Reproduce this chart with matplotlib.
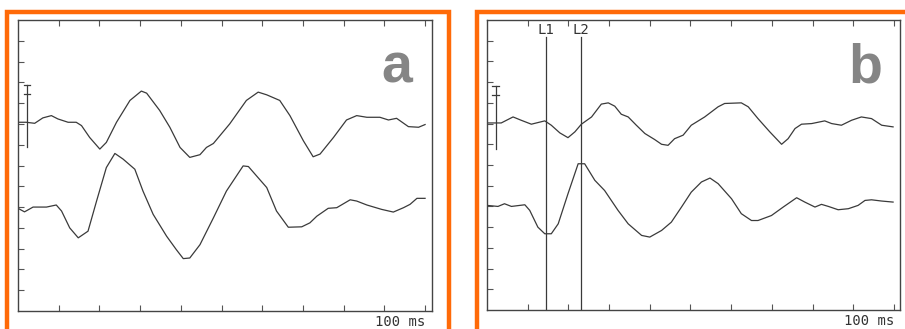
import numpy as np
import matplotlib
matplotlib.use("Agg")
from matplotlib import pyplot as plt
from matplotlib.patches import Rectangle

# traces, x in time divisions, y in grid divisions
a_top_x = [0, 0.20, 0.41, 0.61, 0.82, 0.98, 1.23, 1.43, 1.56, 1.76, 2.01, 2.17, 2.42, 2.75, 3.03,
           3.16, 3.48, 3.73, 3.98, 4.22, 4.47, 4.63, 4.80, 5.20, 5.61, 5.90, 6.11, 6.43, 6.68, 7.01,
           7.25, 7.42, 7.75, 8.07, 8.32, 8.57, 8.89, 9.10, 9.30, 9.59, 9.84, 10.0]
a_top_y = [9.08, 9.08, 9.03, 9.29, 9.40, 9.24, 9.08, 9.08, 8.92, 8.35, 7.79, 8.11, 9.08, 10.13, 10.58,
           10.48, 9.65, 8.84, 7.87, 7.39, 7.52, 7.87, 8.06, 9.00, 10.13, 10.53, 10.40, 10.13, 9.40, 8.19,
           7.42, 7.55, 8.35, 9.19, 9.40, 9.32, 9.32, 9.19, 9.27, 8.87, 8.84, 8.97]

a_low_x = [0, 0.16, 0.37, 0.70, 0.94, 1.07, 1.27, 1.48, 1.72, 1.93, 2.17, 2.38, 2.58, 2.87, 3.07,
           3.32, 3.65, 3.89, 4.06, 4.22, 4.47, 4.80, 5.12, 5.53, 5.66, 5.86, 6.11, 6.35, 6.64, 6.97,
           7.17, 7.34, 7.62, 7.83, 8.16, 8.32, 8.57, 8.93, 9.22, 9.47, 9.63, 9.80, 10.0]
a_low_y = [4.94, 4.77, 5.00, 5.00, 5.10, 4.81, 4.00, 3.52, 3.84, 5.29, 6.90, 7.58, 7.31, 6.82, 5.77,
           4.65, 3.60, 2.95, 2.52, 2.55, 3.19, 4.48, 5.77, 6.98, 6.95, 6.50, 5.94, 4.81, 4.03, 4.05,
           4.24, 4.56, 4.94, 4.97, 5.35, 5.29, 5.10, 4.89, 4.76, 4.97, 5.13, 5.42, 5.42]

b_top_x = [0, 0.35, 0.64, 0.84, 1.09, 1.42, 1.58, 1.79, 1.99, 2.16, 2.32, 2.57, 2.81, 2.98, 3.14,
           3.30, 3.47, 3.67, 3.88, 4.12, 4.29, 4.45, 4.61, 4.82, 5.02, 5.35, 5.68, 5.84, 6.25, 6.42,
           6.66, 6.95, 7.24, 7.40, 7.57, 7.73, 7.98, 8.30, 8.47, 8.71, 8.96, 9.20, 9.45, 9.70, 9.98]
b_top_y = [9.03, 9.03, 9.32, 9.16, 8.97, 9.13, 8.92, 8.55, 8.32, 8.60, 8.97, 9.32, 9.94, 10.00, 9.84,
           9.45, 9.32, 8.92, 8.52, 8.23, 8.00, 7.95, 8.27, 8.44, 8.92, 9.32, 9.81, 9.97, 10.00, 9.81,
           9.24, 8.60, 8.00, 8.27, 8.76, 8.97, 9.00, 9.13, 9.00, 8.92, 9.16, 9.32, 9.24, 8.92, 8.84]

b_low_x = [0, 0.27, 0.43, 0.60, 0.93, 1.05, 1.25, 1.42, 1.58, 1.75, 1.99, 2.24, 2.40, 2.65, 2.89,
           3.22, 3.47, 3.80, 4.00, 4.29, 4.53, 4.78, 5.02, 5.27, 5.48, 5.68, 6.01, 6.25, 6.50, 6.66,
           6.99, 7.28, 7.61, 7.81, 8.06, 8.22, 8.39, 8.63, 8.88, 9.12, 9.29, 9.45, 9.70, 9.98]
b_low_y = [5.05, 5.00, 5.13, 5.00, 5.08, 4.81, 4.00, 3.68, 3.68, 4.16, 5.61, 7.06, 7.06, 6.26, 5.77,
           4.81, 4.16, 3.60, 3.52, 3.84, 4.24, 4.97, 5.69, 6.18, 6.37, 6.10, 5.37, 4.65, 4.32, 4.32,
           4.56, 4.97, 5.42, 5.21, 4.97, 5.10, 5.00, 4.84, 4.89, 5.05, 5.29, 5.32, 5.26, 5.21]

# cursors in panel b
cursor_names = ["L1", "L2"]
cursor_x = [1.44, 2.30]

# calibration bar (x, top, cap, bottom)
bar_a = [0.22, 10.85, 10.42, 7.87]
bar_b = [0.21, 10.81, 10.40, 7.79]

ORANGE = "#ff6a08"
INK = "#3a3a3a"

W, H = 905, 329
fig = plt.figure(figsize=(W / 100, H / 100), dpi=100)
fig.patch.set_facecolor("white")

# orange frames (bottom edge runs off the picture)
for x0, x1 in [(7, 449), (477, 912)]:
    fig.patches.append(Rectangle((x0 / W, -0.05), (x1 - x0) / W, (H - 11.5) / H + 0.05,
                                 transform=fig.transFigure, fill=False,
                                 edgecolor=ORANGE, linewidth=3.2, zorder=0))


def panel(rect, xmax, tx, ty, lx, ly, bar, letter):
    ax = fig.add_axes(rect)
    ax.set_xlim(0, xmax)
    ax.set_ylim(0, 14)
    for s in ax.spines.values():
        s.set_color("#444444")
        s.set_linewidth(1.0)
    ax.set_xticks(np.arange(1, 11))
    ax.set_yticks(np.arange(1, 14))
    ax.tick_params(axis="x", direction="in", top=True, bottom=True, length=4,
                   color="#555555", labelbottom=False)
    ax.tick_params(axis="y", direction="in", left=True, right=False, length=4,
                   color="#555555", labelleft=False)
    ax.plot(tx, ty, color=INK, lw=0.9, solid_joinstyle="round")
    ax.plot(lx, ly, color=INK, lw=0.9, solid_joinstyle="round")
    bx, btop, bcap, bbot = bar
    ax.plot([bx, bx], [bbot, btop], color=INK, lw=0.9)
    ax.plot([bx - 0.08, bx + 0.08], [btop, btop], color=INK, lw=0.9)
    ax.plot([bx - 0.08, bx + 0.08], [bcap, bcap], color=INK, lw=0.9)
    ax.text(9.3, 11.0, letter, color="#858585", fontsize=40, fontweight="bold",
            family="Liberation Sans", ha="center", va="baseline")
    ax.text(10.0, -0.2, "100 ms", color="#333333", fontsize=10, family="DejaVu Sans Mono",
            ha="right", va="top", clip_on=False)
    return ax


ax_a = panel([18 / W, 1 - 311 / H, 414 / W, 291 / H], 10.17,
             a_top_x, a_top_y, a_low_x, a_low_y, bar_a, "a")
ax_b = panel([487 / W, 1 - 310 / H, 413 / W, 290 / H], 10.15,
             b_top_x, b_top_y, b_low_x, b_low_y, bar_b, "b")

for name, cx in zip(cursor_names, cursor_x):
    ax_b.plot([cx, cx], [0, 13.2], color=INK, lw=0.9)
    ax_b.text(cx, 13.2, name, color="#333333", fontsize=10, family="DejaVu Sans Mono",
              ha="center", va="bottom")

fig.savefig("out.png", dpi=100)
